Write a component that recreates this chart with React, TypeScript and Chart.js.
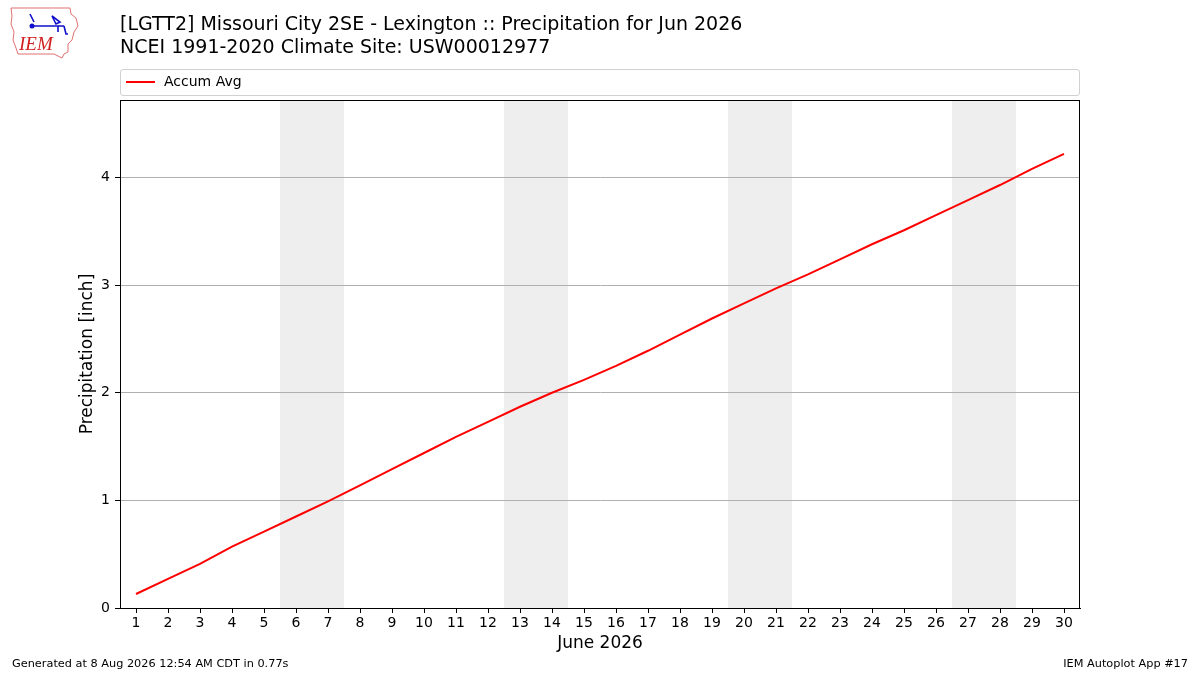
import { useEffect, useRef } from 'react'
import { Chart, registerables } from 'chart.js'

Chart.register(...registerables)

// day of month and accumulated average precip (inch)
const days = [1, 2, 3, 4, 5, 6, 7, 8, 9, 10, 11, 12, 13, 14, 15, 16, 17, 18, 19, 20, 21, 22, 23, 24, 25, 26, 27, 28, 29, 30]
const accumAvg = [0.13, 0.27, 0.41, 0.57, 0.71, 0.85, 0.99, 1.14, 1.29, 1.44, 1.59, 1.73, 1.87, 2.0, 2.12, 2.25, 2.39, 2.54, 2.69, 2.83, 2.97, 3.1, 3.24, 3.38, 3.51, 3.65, 3.79, 3.93, 4.08, 4.22]
const weekends = [[5.5, 7.5], [12.5, 14.5], [19.5, 21.5], [26.5, 28.5]]
const yTicks = [0, 1, 2, 3, 4]

const FONT = "'DejaVu Sans', sans-serif"

const frame = {
  id: 'frame',
  beforeDraw(chart: any) {
    const { ctx, chartArea: a, scales } = chart
    ctx.save()
    ctx.fillStyle = '#eeeeee'
    weekends.forEach(([s, e]) => {
      const x1 = scales.x.getPixelForValue(s)
      const x2 = scales.x.getPixelForValue(e)
      ctx.fillRect(x1, a.top, x2 - x1, a.bottom - a.top)
    })
    ctx.restore()
  },
  afterDraw(chart: any) {
    const { ctx, chartArea: a } = chart
    ctx.save()
    ctx.strokeStyle = '#000'
    ctx.lineWidth = 1
    ctx.strokeRect(a.left + 0.5, a.top + 0.5, a.right - a.left - 1, a.bottom - a.top)
    ctx.restore()
  },
}

function Logo() {
  return (
    <svg width="72" height="56" viewBox="0 0 72 56" style={{ position: 'absolute', left: 8, top: 4 }}>
      <path d="M3 4 L62 4 L63 10 L68 14 L70 22 L66 28 L64 36 L60 40 L60 48 L56 50 L54 54 L46 50 L10 50 L8 44 L5 36 L6 28 L3 20 L4 12 Z"
        fill="none" stroke="#e07070" strokeWidth="1" />
      <path d="M22 22 L56 22 M22 10 L26 18 M44 12 L52 18 L48 20 Z M56 22 L58 30 L60 30 M50 22 L50 28" stroke="#1010cc" strokeWidth="1.6" fill="none" />
      <circle cx="24" cy="22" r="2.5" fill="#1010cc" />
      <text x="11" y="46" fontFamily="'Liberation Serif', serif" fontStyle="italic" fontSize="19" fill="#d02020">IEM</text>
    </svg>
  )
}

export default function App() {
  const chartRef = useRef<HTMLCanvasElement>(null)
  const chartInstance = useRef<Chart | null>(null)

  useEffect(() => {
    if (!chartRef.current) return
    if (chartInstance.current) chartInstance.current.destroy()
    const ctx = chartRef.current.getContext('2d')
    if (!ctx) return

    chartInstance.current = new Chart(ctx, {
      type: 'line',
      data: {
        datasets: [{
          label: 'Accum Avg',
          data: days.map((d, i) => ({ x: d, y: accumAvg[i] })),
          borderColor: '#ff0000',
          borderWidth: 2,
          pointRadius: 0,
          tension: 0,
          fill: false,
        }],
      },
      plugins: [frame],
      options: {
        animation: false,
        responsive: false,
        devicePixelRatio: 1,
        layout: { padding: { left: 73, top: 100, right: 120, bottom: 17 } },
        plugins: {
          legend: { display: false },
          tooltip: { enabled: false },
        },
        scales: {
          x: {
            type: 'linear',
            min: 0.5,
            max: 30.5,
            afterFit: (s: any) => { s.height = 50 },
            afterBuildTicks: (s: any) => { s.ticks = days.map(v => ({ value: v })) },
            grid: { drawOnChartArea: false, drawTicks: true, tickLength: 5, tickColor: '#000' },
            border: { color: '#000' },
            ticks: { color: '#000', padding: 2, maxRotation: 0, autoSkip: false, font: { family: FONT, size: 14 } },
            title: { display: true, text: 'June 2026', color: '#000', font: { family: FONT, size: 17 } },
          },
          y: {
            type: 'linear',
            min: 0,
            max: 4.72,
            afterFit: (s: any) => { s.width = 47 },
            afterBuildTicks: (s: any) => { s.ticks = yTicks.map(v => ({ value: v })) },
            grid: { color: '#b0b0b0', lineWidth: 1, drawTicks: true, tickLength: 5, tickColor: '#000' },
            border: { color: '#000' },
            ticks: { color: '#000', padding: 5, font: { family: FONT, size: 14 } },
            title: { display: true, text: 'Precipitation [inch]', color: '#000', font: { family: FONT, size: 17 } },
          },
        },
      },
    })

    return () => {
      if (chartInstance.current) {
        chartInstance.current.destroy()
        chartInstance.current = null
      }
    }
  }, [])

  return (
    <div style={{ position: 'absolute', left: 0, top: 0, width: 1200, height: 675, background: '#fff', fontFamily: FONT, color: '#000' }}>
      <canvas ref={chartRef} width={1200} height={675} style={{ position: 'absolute', left: 0, top: 0 }} />
      <Logo />
      <div style={{ position: 'absolute', left: 120, top: 12, fontSize: 19, lineHeight: '23px', whiteSpace: 'nowrap' }}>
        <div>[LGTT2] Missouri City 2SE - Lexington :: Precipitation for Jun 2026</div>
        <div>NCEI 1991-2020 Climate Site: USW00012977</div>
      </div>
      <div style={{ position: 'absolute', left: 120, top: 69, width: 958, height: 25, border: '1px solid #d0d0d0', borderRadius: 3, boxSizing: 'content-box' }}>
        <div style={{ position: 'absolute', left: 5, top: 11, width: 29, height: 2, background: '#ff0000' }} />
        <div style={{ position: 'absolute', left: 43, top: 3, fontSize: 14, whiteSpace: 'nowrap' }}>Accum Avg</div>
      </div>
      <div style={{ position: 'absolute', left: 12, top: 657, fontSize: 11.3, whiteSpace: 'nowrap' }}>Generated at 8 Aug 2026 12:54 AM CDT in 0.77s</div>
      <div style={{ position: 'absolute', right: 12, top: 657, fontSize: 11.3, whiteSpace: 'nowrap' }}>IEM Autoplot App #17</div>
    </div>
  )
}
